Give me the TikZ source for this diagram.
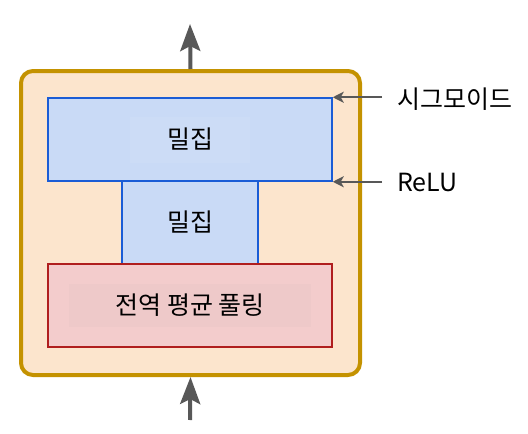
\documentclass[tikz,border=0pt]{standalone}
\usepackage{fontspec}
\setmainfont{Noto Sans CJK KR}
\usetikzlibrary{arrows.meta}
\definecolor{seline}{HTML}{C49200}
\definecolor{sefill}{HTML}{FCE5CD}
\definecolor{denseline}{HTML}{1A5CD6}
\definecolor{densefill}{HTML}{C9DAF6}
\definecolor{poolline}{HTML}{B01E1E}
\definecolor{poolfill}{HTML}{F3CCCC}
\definecolor{arrowgray}{HTML}{585858}

\begin{document}
\begin{tikzpicture}[x=1pt,y=-1pt,
    dense/.style={draw=denseline,fill=densefill,line width=1.5pt,inner sep=0pt},
    pool/.style={draw=poolline,fill=poolfill,line width=1.5pt,inner sep=0pt},
    bigarrow/.style={arrowgray,line width=4pt,-{Stealth[length=27pt,width=20pt,inset=5pt]}},
    sidearrow/.style={arrowgray,line width=2pt,-{Stealth[length=11pt,width=11pt,inset=3pt]}},
    lbl/.style={font=\fontsize{25pt}{28pt}\selectfont}]
    \useasboundingbox (0,0) rectangle (528,434);

    % squeeze-excitation block
    \node[draw=seline,fill=sefill,line width=4pt,rounded corners=12pt,
        minimum width=339pt,minimum height=304pt] (se) at (190.5,223) {};

    \node[dense,minimum width=136pt,minimum height=83pt] (dense1) at (190,222.5) {};
    \node[dense,minimum width=284pt,minimum height=83pt] (dense2) at (190,139.5) {};
    \node[pool,minimum width=284pt,minimum height=83pt] (gap) at (190,305.5) {};

    \node[lbl,fill=densefill!95!white,minimum width=120pt,minimum height=46pt] at (dense2) {밀집};
    \node[lbl] at (dense1) {밀집};
    \node[lbl,fill=poolfill!96!gray,minimum width=242pt,minimum height=43pt] at (gap) {전역 평균 풀링};

    % activations
    \node[lbl,anchor=west,inner sep=0pt] (sig) at (397,99) {시그모이드};
    \node[lbl,anchor=west,inner sep=0pt] (relu) at (397,182) {ReLU};
    \draw[sidearrow] ([xshift=-15pt]sig.west |- dense2.north east) -- (dense2.north east);
    \draw[sidearrow] ([xshift=-15pt]relu.west |- dense2.south east) -- (dense2.south east);

    % input and output
    \coordinate (in) at (190,420);
    \coordinate (out) at (190,24);
    \draw[bigarrow] (in) -- (se.south);
    \draw[bigarrow] (se.north) -- (out);
\end{tikzpicture}
\end{document}
